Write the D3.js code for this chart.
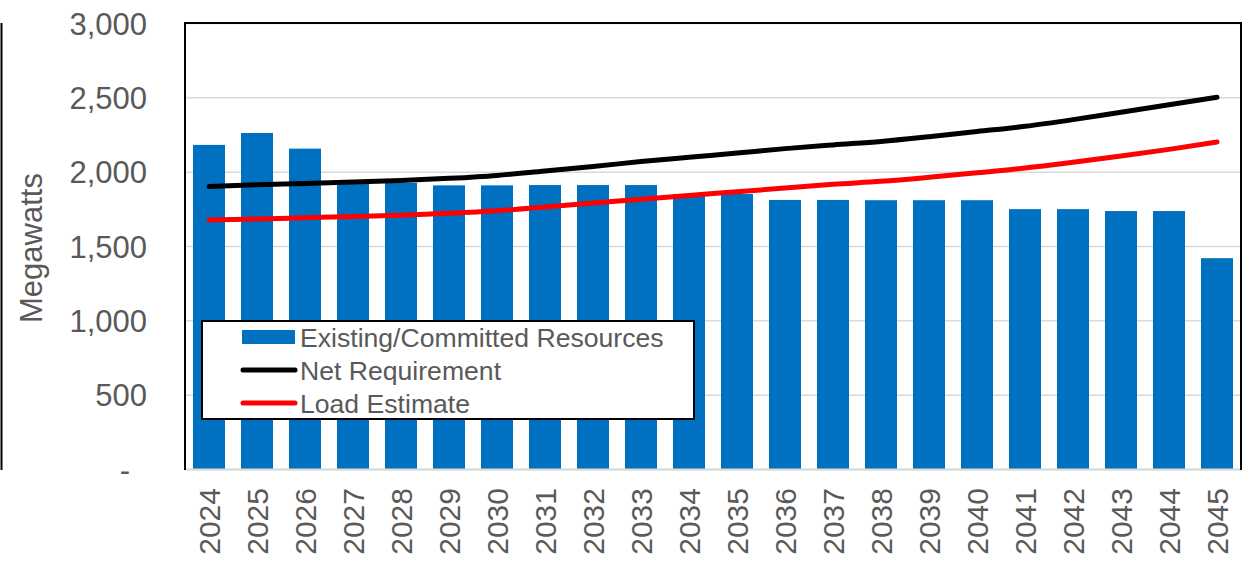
<!DOCTYPE html>
<html>
<head>
<meta charset="utf-8">
<script src="https://cdn.jsdelivr.net/npm/d3@7"></script>
<style>
  html, body { margin: 0; padding: 0; background: #fff; overflow: hidden; }
  svg { display: block; }
  text { font-family: "Liberation Sans", Arial, sans-serif; }
</style>
</head>
<body>
<div id="chart"></div>
<script>
const years = ["2024", "2025", "2026", "2027", "2028", "2029", "2030", "2031", "2032", "2033", "2034",
    "2035", "2036", "2037", "2038", "2039", "2040", "2041", "2042", "2043", "2044", "2045"];
const existingResources = [2180, 2260, 2155, 1925, 1925, 1908, 1908, 1910, 1910, 1910, 1850,
    1850, 1810, 1810, 1808, 1808, 1808, 1748, 1748, 1735, 1735, 1418];
const netRequirement = [1900, 1912, 1920, 1930, 1940, 1955, 1975, 2005, 2035, 2068, 2097,
    2125, 2155, 2180, 2203, 2235, 2270, 2305, 2350, 2400, 2450, 2500];
const loadEstimate = [1675, 1682, 1690, 1698, 1707, 1720, 1737, 1762, 1790, 1815, 1840,
    1865, 1890, 1915, 1935, 1962, 1992, 2024, 2063, 2105, 2150, 2200];
const yTicks = [0, 500, 1000, 1500, 2000, 2500, 3000];
const legendItems = [
    { label: "Existing/Committed Resources", type: "bar", color: "#0070c0" },
    { label: "Net Requirement", type: "line", color: "#000000" },
    { label: "Load Estimate", type: "line", color: "#ff0000" }
];

const width = 1250;
const height = 563;
const margin = { top: 23, right: 9, bottom: 94, left: 185 };
const innerWidth = width - margin.left - margin.right;
const innerHeight = height - margin.top - margin.bottom;
const textColor = "#595959";

const svg = d3.select("#chart")
    .append("svg")
    .attr("width", width)
    .attr("height", height);

// stray outer frame edge on the far left
svg.append("line")
    .attr("x1", 1.5).attr("x2", 1.5)
    .attr("y1", margin.top).attr("y2", margin.top + innerHeight + 1)
    .attr("stroke", "#000").attr("stroke-width", 2);

const g = svg.append("g")
    .attr("transform", `translate(${margin.left}, ${margin.top})`);

const xScale = d3.scaleBand()
    .domain(years)
    .range([0, innerWidth])
    .paddingInner(1 / 3)
    .paddingOuter(1 / 6);

const yScale = d3.scaleLinear()
    .domain([0, 3000])
    .range([innerHeight, 0]);

// gridlines
const yAxis = d3.axisLeft(yScale)
    .tickValues(yTicks)
    .tickSize(-innerWidth)
    .tickPadding(38)
    .tickFormat(d => d === 0 ? "-" : d3.format(",")(d));

const yAxisG = g.append("g").call(yAxis);
yAxisG.select(".domain").remove();
yAxisG.selectAll("line")
    .attr("stroke", "#d9d9d9")
    .attr("stroke-width", 1.5);
yAxisG.selectAll("text")
    .attr("font-size", 31)
    .attr("fill", textColor)
    .attr("dy", "0.36em")
    .filter(d => d === 0)
    .attr("x", -55);

g.append("g")
    .attr("transform", `translate(${42 - margin.left}, ${innerHeight / 2 + 2}) rotate(-90)`)
    .append("text")
    .attr("text-anchor", "middle")
    .attr("font-size", 31)
    .attr("fill", textColor)
    .text("Megawatts");

// bars
g.selectAll(".bar").data(years)
    .enter().append("rect")
    .attr("class", "bar")
    .attr("x", d => xScale(d))
    .attr("y", (d, i) => yScale(existingResources[i]))
    .attr("width", xScale.bandwidth())
    .attr("height", (d, i) => innerHeight - yScale(existingResources[i]))
    .attr("fill", "#0070c0");

// x axis (labels drawn in rotated groups)
const xAxis = d3.axisBottom(xScale).tickSize(0).tickFormat("");
const xAxisG = g.append("g")
    .attr("transform", `translate(0, ${innerHeight})`)
    .call(xAxis);
xAxisG.select(".domain")
    .attr("stroke", "#d9d9d9")
    .attr("stroke-width", 2);

xAxisG.selectAll(".year-label").data(years)
    .enter().append("g")
    .attr("class", "year-label")
    .attr("transform", d => `translate(${xScale(d) + xScale.bandwidth() / 2}, 19) rotate(-90)`)
    .append("text")
    .attr("font-size", 30)
    .attr("fill", textColor)
    .attr("text-anchor", "end")
    .attr("dy", "0.35em")
    .text(d => d);

// lines
const xCenter = (d, i) => xScale(years[i]) + xScale.bandwidth() / 2;
const lineGenerator = d3.line()
    .x(xCenter)
    .y(d => yScale(d))
    .curve(d3.curveMonotoneX);

[[netRequirement, "#000000"], [loadEstimate, "#ff0000"]].forEach(([series, color]) => {
    g.append("path")
        .attr("fill", "none")
        .attr("stroke", color)
        .attr("stroke-width", 5)
        .attr("stroke-linecap", "round")
        .attr("stroke-linejoin", "round")
        .attr("d", lineGenerator(series));
});

// plot frame: top, left, right
g.append("path")
    .attr("d", `M0,${innerHeight + 1} V0 H${innerWidth} V${innerHeight + 1}`)
    .attr("fill", "none")
    .attr("stroke", "#000")
    .attr("stroke-width", 2);

// legend
const legend = g.append("g")
    .attr("transform", `translate(${202 - margin.left}, ${321 - margin.top})`);

legend.append("rect")
    .attr("width", 492)
    .attr("height", 98)
    .attr("fill", "#fff")
    .attr("stroke", "#000")
    .attr("stroke-width", 2);

const legendRows = legend.selectAll(".legend-row").data(legendItems)
    .enter().append("g")
    .attr("class", "legend-row")
    .attr("transform", (d, i) => `translate(0, ${16 + i * 33})`);

legendRows.filter(d => d.type === "bar")
    .append("rect")
    .attr("x", 40)
    .attr("y", -7)
    .attr("width", 53)
    .attr("height", 14)
    .attr("fill", d => d.color);

legendRows.filter(d => d.type === "line")
    .append("line")
    .attr("x1", 41).attr("x2", 93)
    .attr("stroke", d => d.color)
    .attr("stroke-width", 5)
    .attr("stroke-linecap", "round");

legendRows.append("text")
    .attr("x", 98)
    .attr("dy", "0.36em")
    .attr("font-size", 26.6)
    .attr("fill", textColor)
    .text(d => d.label);
</script>
</body>
</html>
